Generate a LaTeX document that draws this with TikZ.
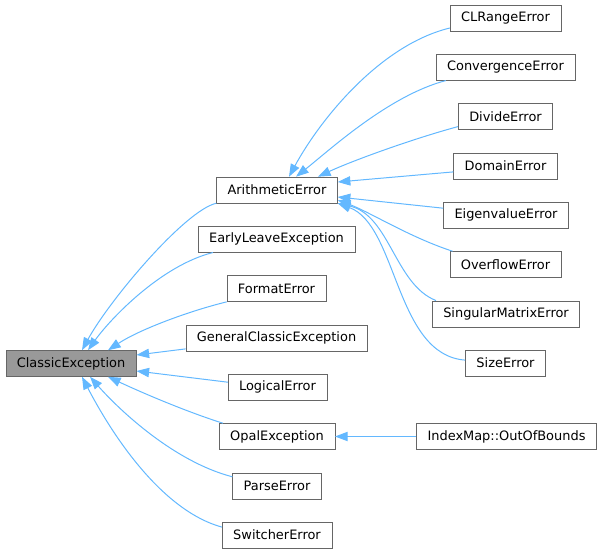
\documentclass[tikz,border=0pt]{standalone}
\usepackage{fontspec}
\setmainfont{DejaVu Sans}
\usepackage{tikz}
\usetikzlibrary{calc, arrows.meta}
\definecolor{edgeblue}{HTML}{63B8FF}
\definecolor{boxline}{HTML}{666666}
\definecolor{basefill}{HTML}{999999}

\begin{document}
\begin{tikzpicture}[
  x=0.75pt, y=-0.75pt,
  every node/.style={font=\fontsize{9.7}{12}\selectfont},
  cls/.style={draw=boxline, rectangle, fill=white, minimum height=19.5pt,
              inner xsep=8.25pt, inner ysep=0pt},
  base/.style={cls, fill=basefill},
  edge/.style={draw=edgeblue, line width=0.75pt,
               -{Triangle[length=9.5pt, width=7pt]}}
]
\useasboundingbox (0,0) rectangle (601,553);
\node[base] (classic) at (71,363.5) {ClassicException};
\node[cls] (arith)    at (277,190)   {ArithmeticError};
\node[cls] (early)    at (276.5,239.3) {EarlyLeaveException};
\node[cls] (format)   at (276.5,288.6) {FormatError};
\node[cls] (general)  at (276.5,337.9) {GeneralClassicException};
\node[cls] (logical)  at (277.5,387.2) {LogicalError};
\node[cls] (opal)     at (277,436.5) {OpalException};
\node[cls] (parse)    at (277,485.8) {ParseError};
\node[cls] (switcher) at (277,535.1) {SwitcherError};
\node[cls] (clrange)  at (505.5,18)    {CLRangeError};
\node[cls] (converg)  at (505.5,67.3)  {ConvergenceError};
\node[cls] (divide)   at (505.5,116.6) {DivideError};
\node[cls] (domain)   at (505.5,165.9) {DomainError};
\node[cls] (eigen)    at (506,215.2)   {EigenvalueError};
\node[cls] (overflow) at (505.5,264.5) {OverflowError};
\node[cls] (singular) at (506,313.8)   {SingularMatrixError};
\node[cls] (size)     at (505.5,363.1) {SizeError};
\node[cls] (outofb)   at (506.5,436.5) {IndexMap::OutOfBounds};
\draw[edge] (arith.south west) .. controls +(-31,7) and +(28,-51) .. ($(classic.north)+(11,0)$);
\draw[edge] ($(early.south west)+(15,0)$) .. controls +(-52,13) and +(22,-31) .. ($(classic.north)+(17,0)$);
\draw[edge] (format.south west) .. controls +(-37,9) and +(32,-21) .. ($(classic.north)+(37,0)$);
\draw[edge] ($(general.west)+(0,11)$) -- ($(classic.east)+(0,-8.5)$);
\draw[edge] ($(logical.west)+(0,-5)$) -- ($(classic.east)+(0,7.5)$);
\draw[edge] ($(opal.north west)+(4,0)$) .. controls +(-38,-12) and +(32,15) .. ($(classic.south)+(37,0)$);
\draw[edge] ($(parse.west)+(0,-9)$) .. controls +(-58,-15) and +(30,34) .. ($(classic.south)+(19,0)$);
\draw[edge] ($(switcher.west)+(0,-8)$) .. controls +(-62,-17) and +(28,54) .. ($(classic.south)+(11,0)$);
\draw[edge] ($(clrange.west)+(0,10)$) .. controls +(-70,17) and +(31,-57) .. ($(arith.north)+(12,0)$);
\draw[edge] ($(converg.south west)+(10,0)$) .. controls +(-57,15) and +(34,-27) .. ($(arith.north)+(19,0)$);
\draw[edge] ($(divide.west)+(0,10)$) .. controls +(-48,13) and +(32,-15) .. ($(arith.north)+(41,0)$);
\draw[edge] ($(domain.west)+(0,6)$) -- ($(arith.east)+(0,-8)$);
\draw[edge] ($(eigen.west)+(0,-7)$) -- ($(arith.east)+(0,7)$);
\draw[edge] ($(overflow.north west)+(3,0)$) .. controls +(-43,-14) and +(32,12) .. ($(arith.east)+(0,10)$);
\draw[edge] ($(singular.north west)+(4,0)$) .. controls +(-41,-16) and +(52,12) .. (arith.south east);
\draw[edge] ($(size.west)+(0,-3)$) .. controls +(-70,-5) and +(60,22) .. (arith.south east);
\draw[edge] (outofb) -- (opal);
\end{tikzpicture}
\end{document}
